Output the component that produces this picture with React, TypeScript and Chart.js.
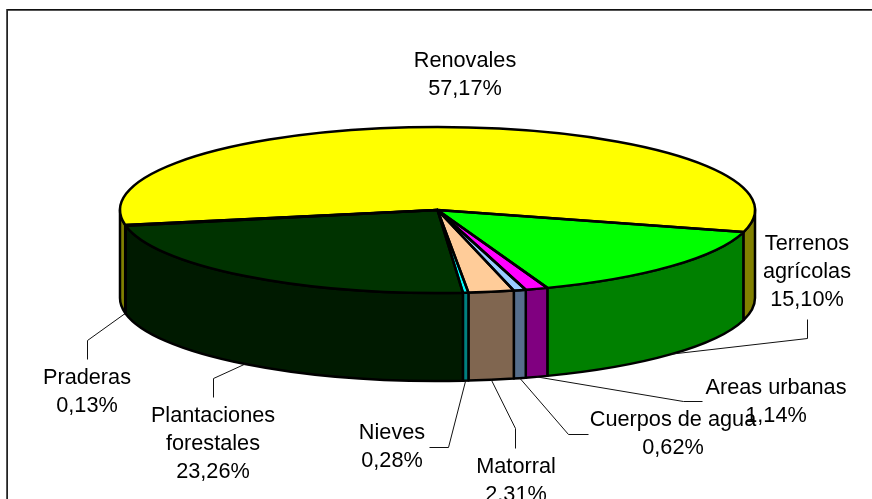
import React, { useEffect, useRef } from "react";
import { Chart, registerables } from "chart.js";

Chart.register(...registerables);

const categories = ["Terrenos agrícolas", "Areas urbanas", "Cuerpos de agua", "Matorral", "Nieves", "Plantaciones forestales", "Praderas", "Renovales"];
const labelLines = [["Terrenos", "agrícolas"], ["Areas urbanas"], ["Cuerpos de agua"], ["Matorral"], ["Nieves"], ["Plantaciones", "forestales"], ["Praderas"], ["Renovales"]];
const values = [15.1, 1.14, 0.62, 2.31, 0.28, 23.26, 0.13, 57.17];
const topColors = ["#00FF00", "#FF00FF", "#99CCFF", "#FFCC99", "#00FFFF", "#003300", "#996633", "#FFFF00"];
const sideColors = ["#008000", "#800080", "#566E8C", "#806650", "#008080", "#001A00", "#4D3319", "#808000"];

// label placement: centre x, centre y of first line
const labelX = [807, 776, 673, 516, 392, 213, 87, 465];
const labelY = [244, 388, 420, 467, 433, 416, 378, 61];
// leader line elbows; the start is taken from the slice itself
const leaders: ([number, number][] | null)[] = [
  [[807, 338], [807, 319]],
  [[683, 401], [702, 401]],
  [[568, 434], [588, 434]],
  [[515, 428], [515, 448]],
  [[448, 447], [429, 447]],
  [[213, 378], [213, 397]],
  [[87, 340], [87, 359]],
  null,
];

const RX = 317.5;
const DEPTH = 88;
const FONT = '21.7px "Liberation Sans", Arial, sans-serif';
const LINE_H = 28.2;
const OUTLINE = 2.5;

function pie3d() {
  const arcsOf = (chart: any) => chart.getDatasetMeta(0).data as any[];
  const scaleAround = (ctx: CanvasRenderingContext2D, a: any) => {
    ctx.translate(a.x, a.y);
    ctx.scale(RX / a.outerRadius, 1);
    ctx.translate(-a.x, -a.y);
  };
  return {
    id: "pie3d",
    beforeDatasetsDraw(chart: any) {
      const ctx: CanvasRenderingContext2D = chart.ctx;
      // frame: only the top and left edges are in the picture
      ctx.save();
      ctx.fillStyle = "#111111";
      ctx.fillRect(6, 9, 866, 1);
      ctx.fillStyle = "#555555";
      ctx.fillRect(6, 10, 866, 1);
      ctx.fillStyle = "#555555";
      ctx.fillRect(6, 9, 1, 490);
      ctx.fillStyle = "#222222";
      ctx.fillRect(7, 9, 1, 490);
      ctx.restore();

      // side walls
      ctx.save();
      ctx.lineWidth = OUTLINE;
      ctx.strokeStyle = "#000000";
      ctx.lineJoin = "round";
      arcsOf(chart).forEach((a, i) => {
        const ry = a.outerRadius;
        for (const shift of [-2 * Math.PI, 0, 2 * Math.PI]) {
          const s = Math.max(a.startAngle + shift, 0);
          const e = Math.min(a.endAngle + shift, Math.PI);
          if (s >= e) continue;
          ctx.beginPath();
          ctx.ellipse(a.x, a.y, RX, ry, 0, s, e);
          ctx.lineTo(a.x + RX * Math.cos(e), a.y + ry * Math.sin(e) + DEPTH);
          ctx.ellipse(a.x, a.y + DEPTH, RX, ry, 0, e, s, true);
          ctx.closePath();
          ctx.fillStyle = sideColors[i];
          ctx.fill();
          ctx.stroke();
        }
      });
      ctx.restore();

      const first = arcsOf(chart)[0];
      ctx.save();
      scaleAround(ctx, first);
    },
    afterDatasetsDraw(chart: any) {
      const ctx: CanvasRenderingContext2D = chart.ctx;
      ctx.restore();

      // slice outlines, stroked with an even pen
      ctx.save();
      ctx.lineWidth = OUTLINE;
      ctx.strokeStyle = "#000000";
      ctx.lineJoin = "round";
      arcsOf(chart).forEach((a) => {
        ctx.beginPath();
        ctx.moveTo(a.x, a.y);
        ctx.ellipse(a.x, a.y, RX, a.outerRadius, 0, a.startAngle, a.endAngle);
        ctx.closePath();
        ctx.stroke();
      });
      ctx.restore();

      // leader lines
      ctx.save();
      ctx.lineWidth = 1;
      ctx.strokeStyle = "#111111";
      arcsOf(chart).forEach((a, i) => {
        const elbow = leaders[i];
        if (!elbow) return;
        const mid = (a.startAngle + a.endAngle) / 2;
        ctx.beginPath();
        ctx.moveTo(a.x + RX * Math.cos(mid), a.y + a.outerRadius * Math.sin(mid) + DEPTH);
        elbow.forEach(([x, y]) => ctx.lineTo(x + 0.5, y + 0.5));
        ctx.stroke();
      });
      ctx.restore();

      // data labels
      ctx.save();
      ctx.font = FONT;
      ctx.fillStyle = "#000000";
      ctx.textAlign = "center";
      ctx.textBaseline = "middle";
      categories.forEach((_, i) => {
        const lines = [...labelLines[i], values[i].toFixed(2).replace(".", ",") + "%"];
        lines.forEach((t, k) => ctx.fillText(t, labelX[i], labelY[i] + k * LINE_H));
      });
      ctx.restore();
    },
  };
}

export default function App() {
  const ref = useRef<HTMLCanvasElement>(null);
  useEffect(() => {
    const chart = new Chart(ref.current!, {
      type: "pie",
      data: {
        labels: categories,
        datasets: [{ data: values, backgroundColor: topColors, borderWidth: 0, clip: false } as any],
      },
      options: {
        animation: false,
        responsive: false,
        devicePixelRatio: 1,
        events: [],
        rotation: 105.4,
        layout: { padding: { top: 127, bottom: 206, left: 120, right: 117 } },
        plugins: { legend: { display: false }, tooltip: { enabled: false } },
      } as any,
      plugins: [pie3d()],
    });
    return () => chart.destroy();
  }, []);
  return (
    <div style={{ position: "absolute", left: 0, top: 0, width: 872, height: 499, background: "#fff" }}>
      <canvas ref={ref} width={872} height={499} style={{ display: "block" }} />
    </div>
  );
}
